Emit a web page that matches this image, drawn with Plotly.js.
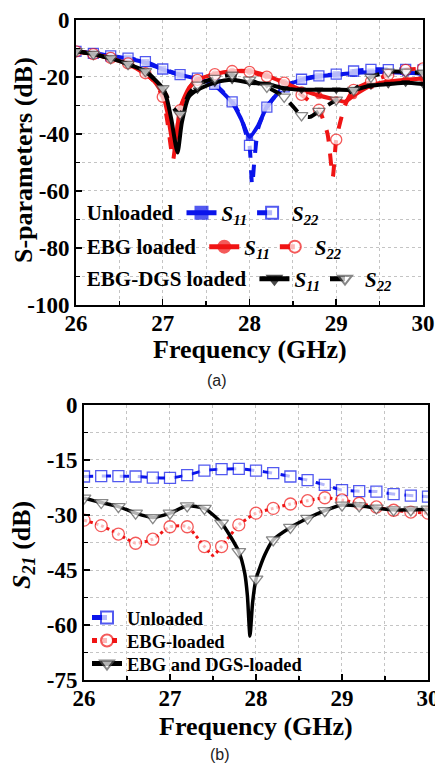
<!DOCTYPE html>
<html><head><meta charset="utf-8">
<script src="https://cdn.plot.ly/plotly-3.0.1.min.js"></script>
<style>html,body{margin:0;padding:0;background:#fff}#chart{width:435px;height:765px}</style>
</head><body><div id="chart"></div>
<script>
// ---------- Panel (a): S11 / S22 (dB) ----------
const unlS11Freq = [26.0,26.2,26.4,26.6,26.8,27.0,27.2,27.4,27.6,27.8,27.9,28.0,28.1,28.2,28.4,28.6,28.8,29.0,29.2,29.4,29.6,29.8,30.0];
const unlS11 = [-11,-11.8,-12.6,-13.5,-15,-17.3,-19.3,-20.6,-23,-29,-34.5,-41,-37,-30.5,-23.5,-21,-19.8,-19.2,-18.6,-18.3,-18.3,-18.5,-18.8];
const unlS22Freq = [26.0,26.2,26.4,26.6,26.8,27.0,27.2,27.4,27.6,27.8,27.9,27.96,28.0,28.03,28.06,28.1,28.2,28.4,28.6,28.8,29.0,29.2,29.4,29.6,29.8,30.0];
const unlS22 = [-11,-11.7,-12.6,-13.4,-14.6,-17.2,-19.2,-20.4,-22.6,-28.7,-34,-40,-44,-58,-48,-38,-30.6,-23.5,-20.8,-19.6,-19,-17.9,-17.3,-17.4,-17.3,-17.5];
const ebgS11Freq = [26.0,26.2,26.4,26.6,26.8,26.9,27.0,27.05,27.1,27.13,27.16,27.2,27.3,27.4,27.6,27.8,28.0,28.2,28.4,28.6,28.8,29.0,29.1,29.2,29.4,29.6,29.8,30.0];
const ebgS11 = [-11,-12,-13.5,-15.5,-19,-21.5,-26,-32,-41,-45,-40,-31,-24,-21,-19,-18,-18,-19.5,-22,-24.5,-26.5,-28,-28.7,-26.5,-23,-21.6,-21,-20.5];
const ebgS22Freq = [26.0,26.2,26.4,26.6,26.8,26.9,27.0,27.05,27.1,27.12,27.15,27.2,27.3,27.4,27.6,27.8,28.0,28.2,28.4,28.6,28.8,28.9,28.96,29.0,29.1,29.2,29.4,29.6,29.8,30.0];
const ebgS22 = [-11,-12,-13.3,-15.2,-18.7,-21.5,-27,-35,-46,-49,-42,-31.6,-24,-21,-19,-17.9,-18.2,-19.9,-22,-26.3,-31.5,-40,-55,-42,-30,-24.5,-21.6,-19.3,-17.5,-17];
const dgsS11Freq = [26.0,26.2,26.4,26.6,26.8,27.0,27.05,27.1,27.17,27.22,27.3,27.4,27.6,27.8,28.0,28.2,28.4,28.6,28.8,29.0,29.2,29.4,29.6,29.8,30.0];
const dgsS11 = [-11,-12,-13.5,-15.5,-18,-24,-28,-35,-46.5,-36,-27,-24.5,-22,-21,-22,-22.5,-24,-24.5,-24.5,-24.5,-24.5,-23,-22.5,-22,-22.5];
const dgsS22Freq = [26.0,26.2,26.4,26.6,26.8,27.0,27.1,27.2,27.3,27.4,27.6,27.8,28.0,28.2,28.4,28.6,28.7,28.8,29.0,29.2,29.4,29.6,29.8,30.0];
const dgsS22 = [-11,-12,-13.5,-15.5,-18,-24,-30,-33,-26,-22.8,-20.4,-19.3,-21,-23.5,-27,-33.5,-34,-32,-28,-24.6,-20,-18.2,-18.2,-18.6];
const legendRowsA = ['Unloaded', 'EBG loaded', 'EBG-DGS loaded'];
const yTicksA = [0,-20,-40,-60,-80,-100];

// ---------- Panel (b): S21 (dB) ----------
const unlS21Freq = [26.0,26.2,26.4,26.6,26.8,27.0,27.2,27.4,27.6,27.8,28.0,28.2,28.4,28.6,28.8,29.0,29.2,29.4,29.6,29.8,30.0];
const unlS21 = [-19.5,-19.4,-19.4,-19.5,-19.8,-19.9,-19.1,-17.9,-17.5,-17.4,-17.9,-18.6,-19.5,-20.5,-21.8,-23.2,-23.5,-23.6,-24.3,-24.7,-25];
const ebgS21Freq = [26.0,26.2,26.4,26.6,26.8,27.0,27.2,27.4,27.5,27.6,27.8,28.0,28.2,28.4,28.6,28.8,29.0,29.2,29.4,29.6,29.8,30.0];
const ebgS21 = [-31.4,-32.9,-35.2,-37.7,-36.6,-33.2,-33.2,-38.6,-41,-38.6,-32.7,-29.5,-28.2,-27,-26.1,-25.3,-25.9,-26.8,-27.8,-28.7,-29.2,-29.5];
const dgsS21Freq = [26.0,26.2,26.4,26.6,26.8,27.0,27.2,27.4,27.6,27.8,27.87,27.9,27.93,27.96,28.0,28.1,28.2,28.4,28.6,28.8,29.0,29.2,29.4,29.6,29.8,30.0];
const dgsS21 = [-25.4,-26.6,-27.7,-29.5,-30.7,-29.5,-27.5,-28.2,-32.2,-40,-46,-52,-63,-54,-47.5,-41,-36.8,-33.4,-30.9,-28.8,-27.3,-27.5,-28.1,-28.6,-28.6,-28.4];
const seriesB = ['Unloaded', 'EBG-loaded', 'EBG and DGS-loaded'];
const yTicksB = [0,-15,-30,-45,-60,-75];

const BLUE = 'rgb(10,20,235)', RED = 'rgb(240,20,20)', BLACK = '#000';
const serif = 'Liberation Serif';
// markers every 0.2 GHz only
const mk = (f, s) => f.map(v => Math.abs(v*5 - Math.round(v*5)) < 1e-6 ? s : 0);
const S11 = '<i>S</i><sub><i>11</i></sub>', S22 = '<i>S</i><sub><i>22</i></sub>';

function tr(f, v, name, color, dash, sym, filled, lg, xa, ya, size, lw, order) {
  return {
    x: f, y: v, name: name, type: 'scatter', mode: 'lines+markers',
    xaxis: xa, yaxis: ya, legend: lg, legendrank: order,
    line: {color: color, width: lw, dash: dash, shape: 'spline', smoothing: 0.6},
    marker: {symbol: sym, size: mk(f, size), color: filled ? color : 'white',
             line: {color: filled ? color : (color === BLACK ? '#555' : color), width: 1.3}},
    cliponaxis: true
  };
}

const data = [
  tr(unlS11Freq, unlS11, S11, BLUE, 'solid', 'square', true, 'legend', 'x', 'y', 6, 4, 1),
  tr(unlS22Freq, unlS22, S22, BLUE, 'dash', 'square', false, 'legend', 'x', 'y', 10, 4, 2),
  tr(ebgS11Freq, ebgS11, S11, RED, 'solid', 'circle', true, 'legend2', 'x', 'y', 6, 4, 1),
  tr(ebgS22Freq, ebgS22, S22, RED, 'dash', 'circle', false, 'legend2', 'x', 'y', 11, 4, 2),
  tr(dgsS11Freq, dgsS11, S11, BLACK, 'solid', 'triangle-down', true, 'legend3', 'x', 'y', 7, 4, 1),
  tr(dgsS22Freq, dgsS22, S22, BLACK, 'dash', 'triangle-down', false, 'legend3', 'x', 'y', 11, 4, 2),
  tr(unlS21Freq, unlS21, seriesB[0], BLUE, 'dash', 'square', false, 'legend4', 'x2', 'y2', 11, 3, 1),
  tr(ebgS21Freq, ebgS21, seriesB[1], RED, 'dot', 'circle', false, 'legend5', 'x2', 'y2', 12, 3, 2),
  tr(dgsS21Freq, dgsS21, seriesB[2], BLACK, 'solid', 'triangle-down', false, 'legend6', 'x2', 'y2', 12, 3.5, 3)
];

const tickFont = {family: serif, size: 23, color: '#000', weight: 700};
const titleFont = {family: serif, size: 26, color: '#000', weight: 700};
const gridC = '#c4c4c4';
function xax(domain, anchor) {
  return {domain: domain, anchor: anchor, range: [26, 30], dtick: 1, tick0: 26,
    ticks: 'inside', ticklen: 6, tickwidth: 1.5, tickcolor: '#000', ticklabeloverflow: 'allow',
    ticklabelstandoff: -4,
    showline: true, linewidth: 2, linecolor: '#000', mirror: true,
    showgrid: true, gridcolor: gridC, griddash: 'dot', gridwidth: 1, zeroline: false,
    minor: {dtick: 0.5, tick0: 26, ticks: 'inside', ticklen: 4, tickcolor: '#000', showgrid: true, gridcolor: gridC, griddash: 'dot'},
    tickfont: tickFont};
}
function yax(domain, anchor, vals, minorD) {
  return {domain: domain, anchor: anchor, range: [vals[vals.length-1], 0],
    tickmode: 'array', tickvals: vals, ticktext: vals.map(v => String(v)), ticklabeloverflow: 'allow',
    ticks: 'inside', ticklen: 6, tickwidth: 1.5, tickcolor: '#000',
    showline: true, linewidth: 2, linecolor: '#000', mirror: true,
    showgrid: true, gridcolor: gridC, griddash: 'dot', gridwidth: 1, zeroline: false,
    minor: {dtick: minorD, tick0: 0, ticks: 'inside', ticklen: 4, tickcolor: '#000', showgrid: true, gridcolor: gridC, griddash: 'dot'},
    tickfont: tickFont};
}
const legA = (y, title) => ({orientation: 'h', x: 0.195, xanchor: 'left', y: y, yanchor: 'middle',
  bgcolor: 'rgba(0,0,0,0)', borderwidth: 0, itemsizing: 'constant', itemwidth: 30, traceorder: 'normal',
  font: {family: serif, size: 21, color: '#000', weight: 700},
  title: {text: title, side: 'left', font: {family: serif, size: 21, color: '#000', weight: 700}}});
const legB = (y) => ({orientation: 'v', x: 0.2, xanchor: 'left', y: y, yanchor: 'middle',
  bgcolor: 'rgba(0,0,0,0)', borderwidth: 0, itemsizing: 'constant',
  font: {family: serif, size: 18.5, color: '#000', weight: 700}});
const ann = (text, x, y, angle, font) => ({text: text, textangle: angle, xref: 'paper', yref: 'paper',
  x: x/435, y: 1 - y/765, xanchor: 'center', yanchor: 'middle', showarrow: false, font: font});
const capFont = {family: 'Liberation Sans', size: 16, color: '#222'};

const layout = {
  width: 435, height: 765, paper_bgcolor: '#fff', plot_bgcolor: '#fff',
  margin: {l: 0, r: 0, t: 0, b: 0}, showlegend: true,
  xaxis: xax([0.1747, 0.9724], 'y'),
  yaxis: yax([0.6013, 0.9739], 'x', yTicksA, 10),
  xaxis2: xax([0.1931, 0.9839], 'y2'),
  yaxis2: yax([0.1111, 0.4706], 'x2', yTicksB, 7.5),
  legend: legA(1 - 213/765, legendRowsA[0]),
  legend2: legA(1 - 247/765, legendRowsA[1]),
  legend3: legA(1 - 279/765, legendRowsA[2]),
  legend4: legB(1 - 618/765),
  legend5: legB(1 - 641/765),
  legend6: legB(1 - 664/765),
  annotations: [
    ann('S-parameters (dB)', 23, 160, -90, titleFont),
    ann('Frequency (GHz)', 249.5, 350, 0, titleFont),
    ann('<i>S</i><sub><i>21</i></sub> (dB)', 23, 545, -90, titleFont),
    ann('Frequency (GHz)', 256, 726, 0, titleFont),
    ann('(a)', 217, 380, 0, capFont),
    ann('(b)', 220, 754, 0, capFont)
  ]
};
Plotly.newPlot('chart', data, layout, {staticPlot: true, displayModeBar: false});
</script></body></html>
